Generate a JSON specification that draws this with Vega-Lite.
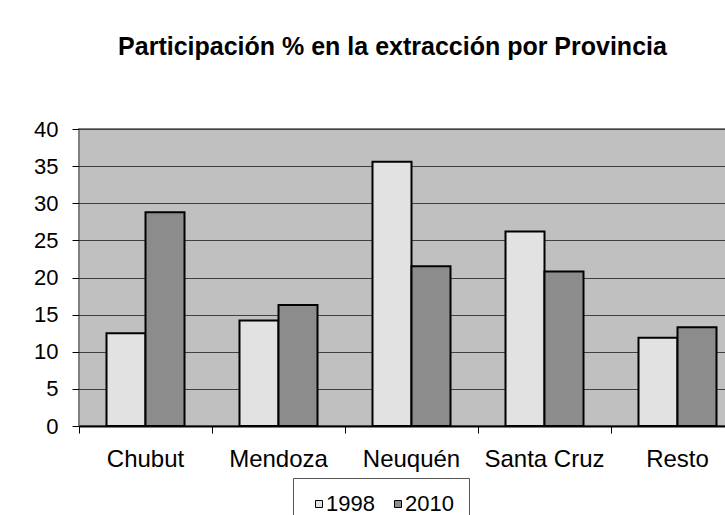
{
  "$schema": "https://vega.github.io/schema/vega-lite/v6.json",
  "autosize": "none",
  "width": 665,
  "height": 297,
  "padding": {"left": 79, "top": 129, "right": -19, "bottom": 89},
  "background": "white",
  "title": {
    "text": "Participación % en la extracción por Provincia",
    "font": "Liberation Sans",
    "fontSize": 25,
    "fontWeight": "bold",
    "color": "black",
    "anchor": "middle",
    "dx": -19,
    "offset": 58
  },
  "data": {
    "values": [
      {"provincia": "Chubut", "anio": "1998", "valor": 12.5},
      {"provincia": "Chubut", "anio": "2010", "valor": 28.8},
      {"provincia": "Mendoza", "anio": "1998", "valor": 14.2},
      {"provincia": "Mendoza", "anio": "2010", "valor": 16.3},
      {"provincia": "Neuquén", "anio": "1998", "valor": 35.6},
      {"provincia": "Neuquén", "anio": "2010", "valor": 21.5},
      {"provincia": "Santa Cruz", "anio": "1998", "valor": 26.2},
      {"provincia": "Santa Cruz", "anio": "2010", "valor": 20.8},
      {"provincia": "Resto", "anio": "1998", "valor": 11.9},
      {"provincia": "Resto", "anio": "2010", "valor": 13.3}
    ]
  },
  "mark": {"type": "bar", "stroke": "black", "strokeWidth": 2},
  "encoding": {
    "x": {
      "field": "provincia",
      "type": "nominal",
      "sort": ["Chubut", "Mendoza", "Neuquén", "Santa Cruz", "Resto"],
      "scale": {"paddingInner": 0, "paddingOuter": 0},
      "axis": {
        "title": null,
        "labelAngle": 0,
        "labelFont": "Liberation Sans",
        "labelFontSize": 24,
        "labelColor": "black",
        "labelPadding": 14,
        "bandPosition": 0,
        "tickColor": "black",
        "tickSize": 7,
        "domainColor": "black",
        "domainWidth": 2,
        "grid": false
      }
    },
    "xOffset": {
      "field": "anio",
      "type": "nominal",
      "scale": {"paddingInner": 0, "paddingOuter": 0.705}
    },
    "y": {
      "field": "valor",
      "type": "quantitative",
      "scale": {"domain": [0, 40], "nice": false},
      "axis": {
        "title": null,
        "values": [0, 5, 10, 15, 20, 25, 30, 35, 40],
        "labelFont": "Liberation Sans",
        "labelFontSize": 22,
        "labelColor": "black",
        "labelPadding": 14,
        "tickColor": "black",
        "tickSize": 7,
        "domain": false,
        "grid": true,
        "gridColor": "#404040",
        "gridWidth": 1
      }
    },
    "fill": {
      "field": "anio",
      "type": "nominal",
      "scale": {"domain": ["1998", "2010"], "range": ["#e2e2e2", "#8c8c8c"]},
      "legend": {
        "title": null,
        "orient": "none",
        "legendX": 214,
        "legendY": 349,
        "direction": "horizontal",
        "padding": 15,
        "strokeColor": "#555555",
        "fillColor": "white",
        "labelFont": "Liberation Sans",
        "labelFontSize": 22,
        "labelColor": "black",
        "labelOffset": -4,
        "columnPadding": 12,
        "symbolType": "square",
        "symbolSize": 49,
        "symbolStrokeColor": "black",
        "symbolStrokeWidth": 1
      }
    }
  },
  "config": {
    "view": {"stroke": "#808080", "strokeWidth": 2, "fill": "#c0c0c0"}
  }
}
